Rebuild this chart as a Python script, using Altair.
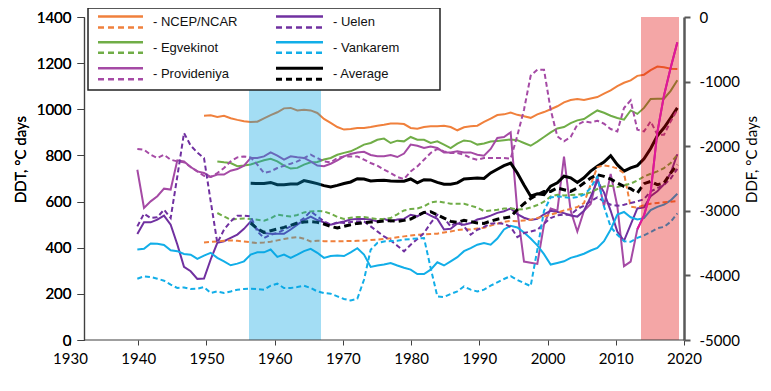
import altair as alt
import pandas as pd

# ---------------- data ----------------
ncep_years = list(range(1948, 2020))
ncep_ddt = [972, 974, 967, 972, 961, 954, 948, 945, 946, 961,
            975, 987, 1004, 1006, 995, 998, 995, 984, 958, 941,
            923, 912, 915, 919, 919, 923, 929, 933, 938, 938,
            936, 919, 916, 923, 926, 926, 929, 923, 909, 922,
            926, 929, 945, 960, 975, 978, 986, 976, 970, 963,
            978, 988, 1000, 1013, 1030, 1040, 1044, 1040, 1047, 1053,
            1068, 1082, 1100, 1115, 1125, 1145, 1150, 1170, 1185, 1182,
            1176, 1175]
ncep_ddf = [-3489, -3480, -3474, -3465, -3458, -3465, -3474, -3487, -3499, -3490,
            -3478, -3458, -3437, -3420, -3406, -3432, -3474, -3463, -3470, -3473,
            -3472, -3470, -3468, -3465, -3463, -3452, -3445, -3437, -3425, -3410,
            -3396, -3383, -3370, -3365, -3360, -3354, -3335, -3319, -3300, -3285,
            -3290, -3275, -3262, -3230, -3200, -3170, -3156, -3160, -3150, -3140,
            -3110, -3090, -3060, -3030, -2994, -2972, -2941, -2879, -2596, -2322,
            -2297, -2312, -2345, -2420, -2935, -2950, -2910, -2890, -2879, -2869,
            -2859, -2849]

egv_years = list(range(1950, 2020))
egv_ddt = [774, 770, 767, 753, 756, 761, 770, 779, 785, 774,
           756, 743, 746, 760, 770, 772, 782, 789, 803, 811,
           818, 832, 847, 854, 868, 873, 854, 864, 861, 880,
           868, 868, 854, 861, 847, 832, 851, 865, 861, 847,
           852, 860, 863, 866, 869, 866, 854, 842, 860, 880,
           900, 917, 923, 940, 952, 958, 977, 995, 985, 972,
           962, 955, 995, 980, 1006, 1045, 1046, 1046, 1080, 1126]
egv_ddf = [-3034, -3087, -3138, -3127, -3118, -3127, -3138, -3153, -3118, -3060,
           -3076, -3087, -3065, -3025, -3009, -3003, -3009, -3045, -3096, -3127,
           -3107, -3096, -3096, -3112, -3127, -3127, -3112, -3055, -2994, -2972,
           -2963, -2932, -2870, -2854, -2870, -2890, -2890, -2890, -2921, -2952,
           -3005, -2995, -2985, -2965, -2960, -2980, -2975, -2950, -2910, -2860,
           -2777, -2751, -2762, -2756, -2751, -2740, -2715, -2663, -2622, -2612,
           -2632, -2607, -2580, -2529, -2470, -2426, -2390, -2338, -2260, -2132]

st_years = list(range(1938, 2020))
prov_ddt = [738, 572, 601, 623, 656, 652, 779, 774, 750, 731,
            724, 707, 717, 717, 734, 741, 756, 789, 789, 796,
            813, 799, 782, 796, 792, 789, 774, 756, 753, 764,
            779, 796, 806, 813, 816, 802, 796, 796, 802, 793,
            808, 847, 842, 832, 839, 832, 813, 813, 818, 813,
            813, 803, 799, 828, 876, 880, 900, 560, 340, 335,
            330, 500, 570, 560, 795, 560, 470, 560, 590, 710,
            580, 720, 580, 320, 340, 480, 540, 640, 900, 1060,
            1180, 1290]
prov_ddf = [-2043, -2054, -2132, -2183, -2132, -2209, -2235, -2250, -2322, -2390,
            -2457, -2477, -2415, -2338, -2235, -2173, -2158, -2173, -2286, -2415,
            -2390, -2338, -2302, -2271, -2235, -2183, -2132, -2183, -2235, -2250,
            -2183, -2158, -2158, -2158, -2209, -2260, -2302, -2364, -2415, -2477,
            -2508, -2390, -2313, -2209, -2105, -2043, -2080, -2105, -2105, -2132,
            -2183, -2209, -2183, -2183, -2183, -2183, -2193, -1837, -1435, -909,
            -816, -816, -1435, -1848, -1925, -1858, -1667, -1616, -1632, -1605,
            -1652, -1734, -1771, -1409, -1291, -1745, -1771, -1616, -1822, -1822,
            -1616, -1435]
uel_ddt = [459, 510, 510, 522, 539, 500, 414, 317, 298, 265,
           266, 349, 421, 428, 443, 457, 482, 514, 479, 464,
           460, 460, 460, 479, 500, 520, 535, 520, 510, 500,
           507, 514, 522, 525, 525, 522, 514, 525, 514, 522,
           525, 543, 536, 554, 539, 525, 479, 482, 505, 500,
           507, 522, 529, 539, 551, 558, 570, 545, 530, 520,
           525, 545, 560, 555, 550, 540, 535, 560, 620, 690,
           640, 560, 470, 430, 500, 570, 575, 623, 645, 674,
           724, 805]
uel_ddf = [-3241, -3045, -3112, -3100, -2983, -3112, -2467, -1796, -1990, -2100,
           -2183, -2850, -3498, -3293, -3164, -3076, -3076, -3087, -3319, -3421,
           -3370, -3344, -3293, -3241, -3189, -3112, -3009, -3087, -3164, -3215,
           -3179, -3189, -3174, -3164, -3164, -3241, -3319, -3396, -3458, -3540,
           -3628, -3525, -3437, -3344, -3189, -3060, -3112, -3241, -3164, -3241,
           -3370, -3293, -3250, -3200, -3190, -3200, -3250, -3406, -3344, -3320,
           -3293, -3200, -3112, -3071, -3060, -3060, -2972, -2921, -2854, -2793,
           -2854, -2906, -2921, -2906, -2879, -2854, -2820, -2700, -2650, -2600,
           -2500, -2350]
vank_ddt = [392, 395, 418, 417, 412, 389, 385, 373, 370, 352,
            366, 378, 356, 341, 324, 331, 341, 370, 380, 380,
            392, 360, 370, 356, 370, 385, 395, 378, 356, 364,
            366, 364, 380, 398, 370, 317, 323, 327, 334, 323,
            313, 305, 286, 286, 305, 337, 323, 341, 359, 385,
            398, 413, 420, 413, 440, 479, 495, 488, 466, 440,
            410, 372, 327, 334, 341, 356, 364, 374, 388, 399,
            428, 479, 544, 555, 532, 522, 528, 563, 577, 587,
            605, 634]
vank_ddf = [-4051, -4015, -4025, -4051, -4082, -4144, -4195, -4186, -4211, -4206,
            -4180, -4272, -4248, -4272, -4248, -4221, -4211, -4206, -4211, -4221,
            -4159, -4128, -4195, -4195, -4180, -4159, -4195, -4248, -4272, -4283,
            -4325, -4365, -4387, -4361, -4067, -3602, -3498, -3474, -3468, -3463,
            -3447, -3437, -3427, -3421, -3886, -4325, -4334, -4288, -4248, -4170,
            -4221, -4248, -4221, -4159, -4108, -4056, -4010, -4070, -4120, -4165,
            -3602, -3000, -2793, -2777, -2787, -2802, -2787, -2751, -2647, -2467,
            -2932, -3251, -3370, -3470, -3480, -3420, -3380, -3330, -3270, -3250,
            -3170, -3040]

avg_years = list(range(1955, 2020))
avg_ddt = [679, 678, 678, 683, 673, 673, 676, 676, 691, 685,
           678, 669, 663, 670, 678, 685, 699, 698, 689, 691,
           692, 689, 688, 688, 698, 681, 695, 694, 683, 675,
           675, 681, 698, 700, 702, 700, 724, 740, 756, 767,
           724, 672, 623, 634, 630, 667, 681, 710, 703, 683,
           703, 732, 753, 771, 799, 760, 732, 746, 756, 785,
           830, 885, 920, 962, 1006]
avg_ddf = [-3189, -3277, -3334, -3308, -3282, -3257, -3226, -3189, -3174, -3169,
           -3179, -3205, -3241, -3267, -3241, -3215, -3195, -3184, -3174, -3169,
           -3158, -3153, -3164, -3148, -3127, -3076, -3025, -3014, -3065, -3112,
           -3164, -3179, -3148, -3169, -3189, -3195, -3160, -3130, -3110, -3095,
           -2980, -2890, -2810, -2750, -2700, -2700, -2647, -2673, -2700, -2647,
           -2570, -2492, -2441, -2467, -2508, -2570, -2622, -2658, -2725, -2580,
           -2545, -2596, -2570, -2415, -2286]

series_names = ["NCEP/NCAR", "Egvekinot", "Provideniya", "Uelen", "Vankarem", "Average"]
series_colors = ["#F0803C", "#70AD47", "#A54AA5", "#7030A0", "#12AEE8", "#000000"]

band_periods = {"cold": (1954.75, 1965.55), "warm": (2013.55, 2019.25)}
x_tick_years = list(range(1930, 2021, 10))

# ---------------- chart ----------------
FONT = "Lato"
LFONT = "Liberation Sans"

x_scale = alt.Scale(domain=[1930, 2020], nice=False, zero=False)
x_enc = alt.X("year:Q", scale=x_scale, axis=None)

y_left = alt.Y("v:Q", scale=alt.Scale(domain=[0, 1400], nice=False, zero=False),
               axis=alt.Axis(values=list(range(0, 1401, 200)), labelExpr="'' + datum.value",
                             title="DDT, °C days", grid=False,
                             orient="left", tickSize=7, tickColor="#404040", domainColor="#404040",
                             domainWidth=1.2, labelFont=FONT, labelFontSize=15, labelColor="black",
                             labelPadding=6, titleFont=FONT, titleFontSize=15, titleFontWeight="normal",
                             titleColor="black", titleAngle=270, titleX=-64, titleY=142,
                             titleAlign="center", titleBaseline="middle"))
y_right = alt.Y("v:Q", scale=alt.Scale(domain=[-5000, 0], nice=False, zero=False),
                axis=alt.Axis(values=list(range(-5000, 1, 1000)), labelExpr="'' + datum.value",
                              title="DDF, °C days", grid=False,
                              orient="right", tickSize=6, tickColor="#595959", domainColor="#595959",
                              domainWidth=2.5, tickWidth=2, labelFont=FONT, labelFontSize=15,
                              labelColor="black", labelPadding=9, titleFont=FONT, titleFontSize=15,
                              titleFontWeight="normal", titleColor="black", titleAngle=270,
                              titleX=67, titleY=142, titleAlign="center", titleBaseline="middle"))

solid_data = [(ncep_years, ncep_ddt), (egv_years, egv_ddt), (st_years, prov_ddt),
              (st_years, uel_ddt), (st_years, vank_ddt), (avg_years, avg_ddt)]
dash_data = [(ncep_years, ncep_ddf), (egv_years, egv_ddf), (st_years, prov_ddf),
             (st_years, uel_ddf), (st_years, vank_ddf), (avg_years, avg_ddf)]

solid_layers = []
dash_layers = []
for i, name in enumerate(series_names):
    col = series_colors[i]
    is_avg = name == "Average"
    yrs, vals = solid_data[i]
    assert len(yrs) == len(vals), name
    df = pd.DataFrame({"year": yrs, "v": vals})
    solid_layers.append(alt.Chart(df).mark_line(color=col, strokeWidth=3 if is_avg else 2)
                        .encode(x=x_enc, y=y_left))
    yrs, vals = dash_data[i]
    assert len(yrs) == len(vals), name + " ddf"
    df = pd.DataFrame({"year": yrs, "v": vals})
    dash_layers.append(alt.Chart(df).mark_line(color=col, strokeWidth=3 if is_avg else 2,
                                               strokeDash=[7, 4] if is_avg else [5, 3])
                       .encode(x=x_enc, y=y_right))

bands = []
for key, col, op in [("cold", "#00A0E0", 0.36), ("warm", "#E00000", 0.35)]:
    a, b = band_periods[key]
    bdf = pd.DataFrame({"year": [a], "year2": [b]})
    bands.append(alt.Chart(bdf).mark_rect(color=col, opacity=op)
                 .encode(x=x_enc, x2="year2:Q", y=alt.value(0), y2=alt.value(323)))

# Provideniya's last stretch shows bright magenta above the warm band
prov_df = pd.DataFrame({"year": st_years, "v": prov_ddt})
prov_top = alt.Chart(prov_df[prov_df["year"] >= 2013]).mark_line(
    color="#E0189A", strokeWidth=2).encode(x=x_enc, y=y_left)

solids = alt.layer(*solid_layers)
dashes = alt.layer(*dash_layers)
over = alt.layer(*bands, prov_top)

# bottom axis: line along the plot, year labels as placed in the reference
x_line = alt.Chart(pd.DataFrame({"a": [0]})).mark_rule(color="#404040", strokeWidth=1.2).encode(
    x=alt.value(0), x2=alt.value(600), y=alt.value(323))
x_labels = alt.Chart(pd.DataFrame({"year": x_tick_years})).mark_point(opacity=0).encode(
    x=alt.X("year:Q", scale=alt.Scale(domain=[1930, 2020], range=[-14, 600], nice=False, zero=False),
            axis=alt.Axis(values=x_tick_years, format="d", title=None, grid=False, domain=False,
                          tickSize=5, tickColor="#404040", labelFont=FONT, labelFontSize=15,
                          labelColor="black", labelPadding=6, labelFlush=False, orient="bottom")),
    y=alt.value(323))

# legend (drawn by hand, like the reference's boxed legend)
leg_box = alt.Chart(pd.DataFrame({"a": [0]})).mark_rect(
    fill="white", stroke="#222222", strokeWidth=1.5).encode(
    x=alt.value(4), x2=alt.value(356), y=alt.value(-9), y2=alt.value(73))

col_x = [(14, 59, 69), (192, 239, 249)]
row_y = [(-0.5, 10.5, 5.3), (25.3, 35.8, 30.7), (51.3, 62.3, 57)]
leg_rows = []
for i, name in enumerate(series_names):
    c = i // 3
    r = i % 3
    leg_rows.append({"x1": col_x[c][0], "x2": col_x[c][1], "ys": row_y[r][0], "yd": row_y[r][1],
                     "tx": col_x[c][2], "ty": row_y[r][2], "label": "- " + name,
                     "col": series_colors[i], "w": 3 if name == "Average" else 2.5})
ldf = pd.DataFrame(leg_rows)

leg_solid = alt.Chart(ldf).mark_rule().encode(
    x=alt.X("x1:Q", scale=None), x2="x2:Q", y=alt.Y("ys:Q", scale=None),
    color=alt.Color("col:N", scale=None), strokeWidth=alt.StrokeWidth("w:Q", scale=None))
leg_dash = alt.Chart(ldf).mark_rule(strokeDash=[6, 4]).encode(
    x=alt.X("x1:Q", scale=None), x2="x2:Q", y=alt.Y("yd:Q", scale=None),
    color=alt.Color("col:N", scale=None), strokeWidth=alt.StrokeWidth("w:Q", scale=None))
leg_text = alt.Chart(ldf).mark_text(align="left", baseline="middle", font=LFONT, fontSize=13,
                                    color="#111111").encode(
    x=alt.X("tx:Q", scale=None), y=alt.Y("ty:Q", scale=None), text="label:N")

chart = alt.layer(solids, dashes, over, x_line, x_labels,
                  leg_box, leg_solid, leg_dash, leg_text).resolve_scale(
    y="independent", x="independent"
).properties(
    width=600, height=323,
    padding={"left": 76, "top": 9, "right": 79, "bottom": 43},
    autosize=alt.AutoSizeParams(type="none"),
    background="white",
).configure_view(stroke=None)

chart.save("out.html", embed_options={"renderer": "svg", "actions": False})
